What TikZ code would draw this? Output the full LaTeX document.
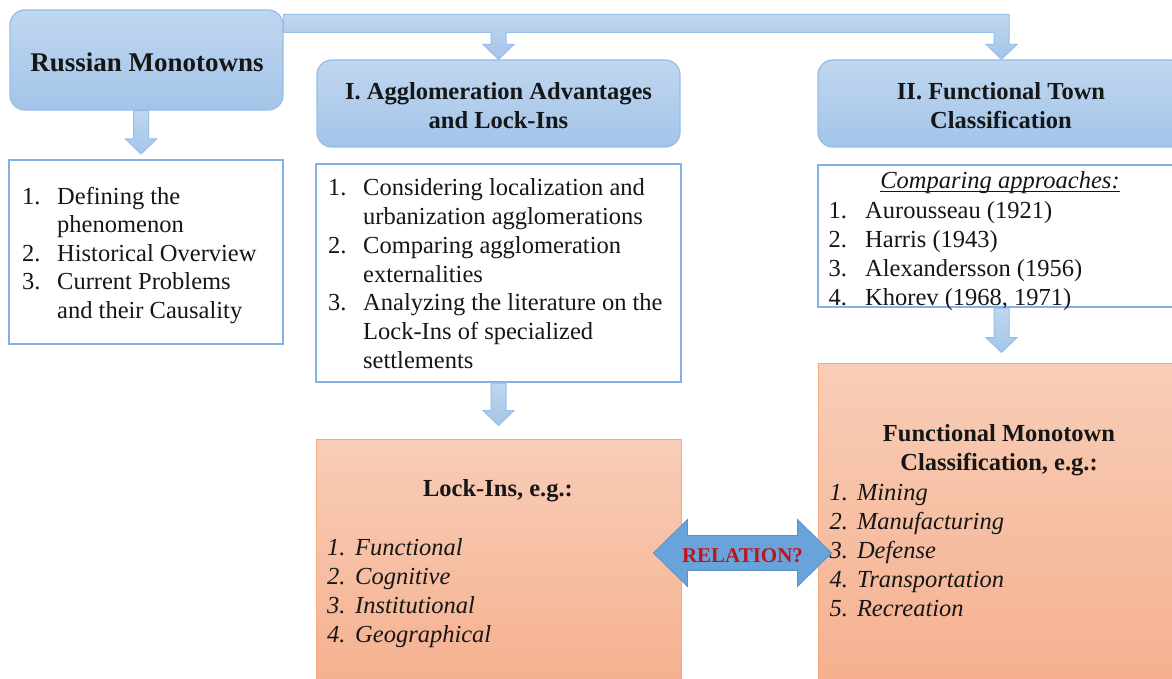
\documentclass[tikz,border=0pt]{standalone}
\usepackage{fontspec}
\setmainfont{Liberation Serif}
\usetikzlibrary{calc}
\definecolor{ink}{RGB}{22,22,22}
\definecolor{titletop}{RGB}{192,215,239}
\definecolor{titlebot}{RGB}{163,196,233}
\definecolor{titleline}{RGB}{150,190,232}
\definecolor{listline}{RGB}{130,178,228}
\definecolor{oratop}{RGB}{248,205,183}
\definecolor{orabot}{RGB}{245,176,142}
\definecolor{oraline}{RGB}{244,170,125}
\definecolor{relfill}{RGB}{104,164,218}
\definecolor{relline}{RGB}{90,145,200}
\definecolor{reltext}{RGB}{192,20,28}

% downward block arrow: shaft starts at #1, tip at #2
\newcommand\blockdown[2]{%
  \path[blockarrow] let \p1=#1, \p2=#2 in
    (\x2-7.5pt,\y1) -- (\x2+7.5pt,\y1) -- (\x2+7.5pt,\y2+15pt)
    -- (\x2+15.5pt,\y2+15pt) -- (\x2,\y2) -- (\x2-15.5pt,\y2+15pt)
    -- (\x2-7.5pt,\y2+15pt) -- cycle;}

\begin{document}
\begin{tikzpicture}[x=1pt,y=-1pt,
  every node/.style={text=ink},
  titlebox/.style={draw=titleline, line width=1.3pt, rounded corners=15pt,
    top color=titletop, bottom color=titlebot, inner sep=0},
  listbox/.style={draw=listline, line width=2pt, fill=white, inner sep=0},
  orabox/.style={draw=oraline, line width=1pt, top color=oratop,
    bottom color=orabot, inner sep=0},
  blockarrow/.style={draw=titleline, line width=1pt, top color=titletop,
    bottom color=titlebot},
  relarrow/.style={draw=relline, line width=0.8pt, fill=relfill},
  ttl/.style={font=\fontsize{24.5}{28.3}\selectfont\bfseries, inner sep=0, anchor=base},
  lst/.style={font=\fontsize{24.5}{28.7}\selectfont, inner sep=0, anchor=base west},
  lstb/.style={font=\fontsize{24.5}{29}\selectfont, inner sep=0, anchor=base west},
  lsti/.style={font=\fontsize{24.5}{29}\selectfont\itshape, inner sep=0, anchor=base west},
]
\useasboundingbox (0,0) rectangle (1172,679);
\clip (0,0) rectangle (1172,679);
\fill[white] (0,0) rectangle (1172,679);

% title boxes
\node[titlebox, minimum width=273pt, minimum height=100pt] (rm) at (146.5,60) {};
\node[titlebox, minimum width=363pt, minimum height=87pt] (b1) at (498.5,103.5) {};
\node[titlebox, minimum width=367pt, minimum height=87pt] (b2) at (1001.5,103.5) {};

% list boxes
\node[listbox, minimum width=274pt, minimum height=184pt] (l0) at (146,252) {};
\node[listbox, minimum width=364.7pt, minimum height=218pt] (l1) at (498.3,273) {};
\node[listbox, minimum width=367pt, minimum height=142pt] (l2) at (1001.5,236) {};

% result boxes
\node[orabox, minimum width=365pt, minimum height=250.5pt] (o1) at (498.5,564.75) {};
\node[orabox, minimum width=367pt, minimum height=327pt] (o2) at (1001.5,526.5) {};

% titles
\node[ttl, font=\fontsize{27}{30}\selectfont\bfseries] (trm) at (147,71.7) {Russian Monotowns};
\node[ttl] (tb1) at (498.5,100) {\begin{tabular}[t]{@{}c@{}}I. Agglomeration Advantages\\ and Lock-Ins\end{tabular}};
\node[ttl] (tb2) at (1001,100) {\begin{tabular}[t]{@{}c@{}}II. Functional Town\\ Classification\end{tabular}};

% lists
\node[lst, font=\fontsize{24.5}{28.5}\selectfont] (tl0) at (22,204.3) {\begin{tabular}[t]{@{}p{35pt}@{}l@{}}
1.&Defining the\\ &phenomenon\\ 2.&Historical Overview\\ 3.&Current Problems\\ &and their Causality\end{tabular}};
\node[lst] (tl1) at (328,196) {\begin{tabular}[t]{@{}p{35pt}@{}l@{}}
1.&Considering localization and\\ &urbanization agglomerations\\ 2.&Comparing agglomeration\\ &externalities\\
3.&Analyzing the literature on the\\ &Lock-Ins of specialized\\ &settlements\end{tabular}};
\node[ttl, font=\fontsize{24.5}{29}\selectfont\itshape] (hd) at (1000,188.3) {Comparing approaches:};
\draw[line width=1.1pt, ink] ([yshift=-3.4pt]hd.base west) -- ([yshift=-3.4pt]hd.base east);
\node[lstb] (tl2) at (828.3,218.3) {\begin{tabular}[t]{@{}p{36.7pt}@{}l@{}}
1.&Aurousseau (1921)\\ 2.&Harris (1943)\\ 3.&Alexandersson (1956)\\ 4.&Khorev (1968, 1971)\end{tabular}};

\node[ttl] (to1) at (498,496.7) {Lock-Ins, e.g.:};
\node[lsti] (lo1) at (327,555) {\begin{tabular}[t]{@{}p{28pt}@{}l@{}}
1.&Functional\\ 2.&Cognitive\\ 3.&Institutional\\ 4.&Geographical\end{tabular}};
\node[ttl] (to2) at (999,441.7) {\begin{tabular}[t]{@{}c@{}}Functional Monotown\\ Classification, e.g.:\end{tabular}};
\node[lsti, font=\fontsize{24.5}{29.2}\selectfont\itshape] (lo2) at (829.3,500) {\begin{tabular}[t]{@{}p{27.5pt}@{}l@{}}
1.&Mining\\ 2.&Manufacturing\\ 3.&Defense\\ 4.&Transportation\\ 5.&Recreation\end{tabular}};

% connector from the main box to both study branches
\path[blockarrow] let \p1=(rm.north east), \p2=(b1.north), \p3=(b2.north) in
  (\x1,\y1-5pt) -- (\x3+7.5pt,\y1-5pt) -- (\x3+7.5pt,\y3+15pt)
  -- (\x3+15.5pt,\y3+15pt) -- (\x3,\y3) -- (\x3-15.5pt,\y3+15pt)
  -- (\x3-7.5pt,\y3+15pt) -- (\x3-7.5pt,\y1-23pt) -- (\x2+7.5pt,\y1-23pt)
  -- (\x2+7.5pt,\y2+15pt) -- (\x2+15.5pt,\y2+15pt) -- (\x2,\y2)
  -- (\x2-15.5pt,\y2+15pt) -- (\x2-7.5pt,\y2+15pt) -- (\x2-7.5pt,\y1-23pt)
  -- (\x1,\y1-23pt) -- cycle;

% downward arrows
\blockdown{([xshift=-5.5pt]rm.south)}{([xshift=-5pt,yshift=5pt]l0.north)}
\blockdown{(l1.south)}{([yshift=13.5pt]o1.north)}
\blockdown{(l2.south)}{([yshift=10pt]o2.north)}

% two-headed relation arrow
\coordinate (relc) at (742.5,553);
\path[relarrow] let \p1=(o1.east), \p2=(o2.west), \p3=(relc) in
  (\x1-28pt,\y3) -- (\x1+6pt,\y3+33.5pt) -- (\x1+6pt,\y3+17.5pt)
  -- (\x2-20pt,\y3+17.5pt) -- (\x2-20pt,\y3+33.5pt) -- (\x2+14pt,\y3)
  -- (\x2-20pt,\y3-33.5pt) -- (\x2-20pt,\y3-17.5pt) -- (\x1+6pt,\y3-17.5pt)
  -- (\x1+6pt,\y3-33.5pt) -- cycle;
\node[font=\fontsize{21}{25}\selectfont\bfseries, text=reltext, inner sep=0, anchor=base] (rel) at (742.5,562.7) {RELATION?};
\end{tikzpicture}
\end{document}
